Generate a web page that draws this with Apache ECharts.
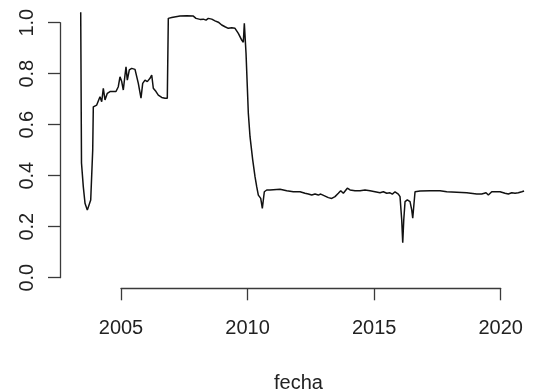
<!DOCTYPE html>
<html>
<head>
<meta charset="utf-8">
<script src="https://cdn.jsdelivr.net/npm/echarts@6/dist/echarts.min.js"></script>
<style>
html,body{margin:0;padding:0;background:#fff;}
#chart{width:535px;height:392px;}
</style>
</head>
<body>
<div id="chart"></div>
<script>
// Fecha (decimal years) and values
var fecha = [
  2003.408, 2003.439, 2003.51, 2003.578, 2003.669, 2003.748, 2003.803, 2003.882, 2003.906,
  2004.04, 2004.103, 2004.17, 2004.237, 2004.301, 2004.368, 2004.459, 2004.565, 2004.696,
  2004.802, 2004.893, 2004.96, 2005.028, 2005.091, 2005.158, 2005.198, 2005.249, 2005.328,
  2005.423, 2005.553, 2005.684, 2005.79, 2005.857, 2005.948, 2006.039, 2006.146, 2006.213,
  2006.276, 2006.383, 2006.474, 2006.608, 2006.738, 2006.829, 2006.869, 2006.908, 2007.003,
  2007.331, 2007.596, 2007.857, 2007.963, 2008.121, 2008.252, 2008.358, 2008.449, 2008.584,
  2008.714, 2008.844, 2008.979, 2009.109, 2009.239, 2009.374, 2009.504, 2009.635, 2009.769,
  2009.832, 2009.872, 2009.899, 2009.939, 2009.99, 2010.03, 2010.097, 2010.203, 2010.294,
  2010.361, 2010.425, 2010.52, 2010.583, 2010.662, 2010.757, 2010.887, 2011.282, 2011.547,
  2011.808, 2012.072, 2012.27, 2012.4, 2012.535, 2012.665, 2012.795, 2012.89, 2013.021,
  2013.191, 2013.325, 2013.455, 2013.586, 2013.68, 2013.783, 2013.941, 2014.048, 2014.245,
  2014.443, 2014.64, 2014.838, 2015.036, 2015.233, 2015.364, 2015.498, 2015.628, 2015.719,
  2015.826, 2015.956, 2016.023, 2016.09, 2016.13, 2016.17, 2016.221, 2016.312, 2016.418,
  2016.485, 2016.525, 2016.576, 2016.616, 2016.814, 2017.209, 2017.604, 2017.869, 2018.264,
  2018.659, 2019.054, 2019.252, 2019.421, 2019.512, 2019.647, 2019.974, 2020.172, 2020.302,
  2020.437, 2020.567, 2020.697, 2020.832, 2020.923
];
var valor = [
  1.041, 0.45, 0.357, 0.292, 0.265, 0.263, 0.305, 0.50, 0.67,
  0.677, 0.684, 0.71, 0.69, 0.743, 0.697, 0.723, 0.73, 0.73,
  0.73, 0.749, 0.788, 0.769, 0.736, 0.795, 0.827, 0.775, 0.815,
  0.821, 0.817, 0.762, 0.704, 0.762, 0.775, 0.769, 0.782, 0.795,
  0.743, 0.73, 0.716, 0.707, 0.704, 0.704, 1.017, 1.021, 1.02,
  1.026, 1.027, 1.026, 1.017, 1.013, 1.014, 1.01, 1.017, 1.014,
  1.007, 1.002, 0.991, 0.984, 0.978, 0.98, 0.978, 0.958, 0.932,
  0.923, 0.998, 0.998, 0.88, 0.749, 0.645, 0.553, 0.462, 0.396,
  0.357, 0.324, 0.311, 0.272, 0.337, 0.344, 0.344, 0.347, 0.341,
  0.337, 0.337, 0.331, 0.328, 0.324, 0.328, 0.324, 0.328, 0.322,
  0.314, 0.311, 0.318, 0.331, 0.341, 0.331, 0.351, 0.344, 0.341,
  0.341, 0.344, 0.341, 0.337, 0.333, 0.337, 0.331, 0.333, 0.328,
  0.337, 0.328, 0.318, 0.226, 0.137, 0.226, 0.298, 0.305, 0.298,
  0.266, 0.233, 0.292, 0.337, 0.34, 0.341, 0.341, 0.337, 0.335,
  0.333, 0.328, 0.328, 0.333, 0.324, 0.337, 0.337, 0.331, 0.328,
  0.333, 0.331, 0.333, 0.337, 0.34
];
var xTicks = [2005, 2010, 2015, 2020];
var yTicks = [0.0, 0.2, 0.4, 0.6, 0.8, 1.0];
var xLabel = 'fecha';

var FONT = '"Liberation Sans", Arial, Helvetica, sans-serif';
var AXIS_COLOR = '#3a3a3a';
var TEXT_COLOR = '#222';

var chart = echarts.init(document.getElementById('chart'), null, {renderer: 'canvas'});
var pts = fecha.map(function (f, i) { return [f, valor[i]]; });

chart.setOption({
  animation: false,
  backgroundColor: '#fff',
  title: {
    text: xLabel, left: 269, top: 368,
    textStyle: {fontFamily: FONT, fontSize: 20, fontWeight: 'normal', color: TEXT_COLOR}
  },
  grid: [
    // data plot region
    {left: 70.38, right: 3.93, top: 2.3, bottom: 101.55, outerBoundsMode: 'none', containLabel: false},
    // x axis (spans first to last tick, as in R)
    {left: 121, right: 34.3, top: 250, bottom: 103.7, outerBoundsMode: 'none', containLabel: false},
    // y axis (spans first to last tick)
    {left: 60, width: 10, top: 22.7, bottom: 114.3, outerBoundsMode: 'none', containLabel: false}
  ],
  xAxis: [
    {gridIndex: 0, type: 'value', min: 2003, max: 2021.2, show: false},
    {gridIndex: 1, type: 'value', min: xTicks[0], max: xTicks[xTicks.length - 1], interval: 5,
      position: 'bottom',
      axisLine: {show: true, lineStyle: {color: AXIS_COLOR, width: 1.3}},
      axisTick: {show: true, length: 12, lineStyle: {color: AXIS_COLOR, width: 1.3}},
      axisLabel: {margin: 30, fontFamily: FONT, fontSize: 20, color: TEXT_COLOR,
        formatter: function (v) { return xTicks.indexOf(v) >= 0 ? String(v) : ''; }},
      splitLine: {show: false}},
    {gridIndex: 2, type: 'value', min: 0, max: 1, show: false}
  ],
  yAxis: [
    {gridIndex: 0, type: 'value', min: -0.05, max: 1.08, show: false},
    {gridIndex: 1, type: 'value', min: 0, max: 1, show: false},
    {gridIndex: 2, type: 'value', min: yTicks[0], max: yTicks[yTicks.length - 1], interval: 0.2,
      position: 'left',
      axisLine: {show: true, lineStyle: {color: AXIS_COLOR, width: 1.3}},
      axisTick: {show: true, length: 12, lineStyle: {color: AXIS_COLOR, width: 1.3}},
      axisLabel: {margin: 23, rotate: 90, fontFamily: FONT, fontSize: 20, color: TEXT_COLOR,
        formatter: function (v) { return v.toFixed(1); }},
      splitLine: {show: false}}
  ],
  series: [{
    type: 'line',
    xAxisIndex: 0, yAxisIndex: 0,
    data: pts,
    showSymbol: false,
    symbol: 'none',
    lineStyle: {color: '#111', width: 1.5},
    silent: true
  }]
});
</script>
</body>
</html>
